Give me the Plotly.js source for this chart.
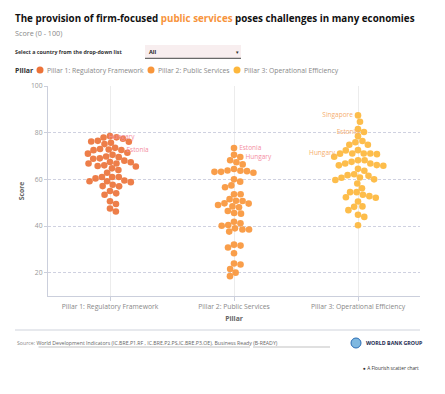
<!DOCTYPE html>
<html><head><meta charset="utf-8">
<script src="https://cdn.plot.ly/plotly-3.0.1.min.js"></script>
<style>html,body{margin:0;padding:0;background:#fff}#chart{width:445px;height:394px}</style>
</head><body><div id="chart"></div>
<script>
// ---- data ----
const pillars = ["Pillar 1: Regulatory Framework", "Pillar 2: Public Services", "Pillar 3: Operational Efficiency"];
const pillarColors = ["#EC7339", "#F8963B", "#FDB73C"];
const labelColors = ["#F48DA2", "#F48DA2", "#F6AE6E"];
const yTicks = [20, 40, 60, 80, 100];

const p1Values = [78.5, 77.4, 78.0, 76.5, 76.2, 75.7, 76.1, 75.1, 73.5, 72.5, 73.0, 72.8, 71.4, 71.0, 70.5, 69.5,
  68.8, 69.8, 69.0, 68.0, 66.8, 66.8, 66.0, 67.3, 67.4, 64.7, 64.0, 65.5, 65.7, 62.8, 61.0, 61.0, 61.0, 60.4,
  58.8, 59.5, 59.2, 59.2, 57.1, 57.0, 57.7, 55.0, 53.4, 54.0, 50.6, 49.4, 47.5, 46.2];
const p1Named = [["Hungary", 77.9], ["Estonia", 72.6]];

const p2Values = [70.5, 68.2, 67.3, 66.4, 63.2, 62.8, 63.7, 63.8, 63.2, 64.4, 63.5, 60.0, 59.0, 57.4, 56.6,
  53.6, 53.6, 50.8, 51.5, 50.7, 49.6, 49.7, 49.0, 48.4, 48.0, 46.4, 45.6, 45.3, 41.2, 41.8, 40.4, 40.1, 39.0,
  38.5, 38.5, 37.6, 30.8, 31.6, 32.0, 28.3, 23.9, 23.5, 21.6, 20.0, 18.5];
const p2Named = [["Estonia", 73.4], ["Hungary", 69.6]];

const p3Values = [84.7, 81.5, 78.5, 76.4, 75.9, 74.8, 74.8, 72.5, 72.4, 69.7, 71.1, 71.1, 71.1, 70.8, 68.2,
  68.2, 67.5, 65.8, 66.1, 66.8, 66.8, 66.0, 64.5, 63.7, 62.2, 61.8, 61.5, 60.7, 60.0, 59.7, 60.8, 58.2, 56.2,
  54.5, 54.5, 52.8, 52.1, 53.4, 52.3, 50.5, 48.2, 48.4, 46.8, 44.8, 43.9, 40.3];
const p3Named = [["Singapore", 87.4], ["Estonia", 80.3], ["Hungary", 71.0]];

// ---- layout geometry ----
const W = 445, H = 394, L = 48, R = 25, T = 86, B = 98;
const plotW = W - L - R, plotH = H - T - B;
const yMin = 10, yMax = 100;
const px = x => (x - L) / plotW;
const py = y => (H - B - y) / plotH;

// beeswarm: place points without overlap, nearest to category centre
function swarm(vals, centre, diam) {
  const kY = plotH / (yMax - yMin), kX = plotW / 3;
  const placed = [];
  return vals.map(v => {
    const y = v * kY;
    const cands = [0];
    placed.forEach(p => {
      const dy = Math.abs(p.y - y);
      if (dy < diam) {
        const dx = Math.sqrt(diam * diam - dy * dy);
        cands.push(p.x + dx + 0.01, p.x - dx - 0.01);
      }
    });
    cands.sort((a, b) => Math.abs(a) - Math.abs(b));
    const c = cands.find(c => placed.every(p => (p.x - c) ** 2 + (p.y - y) ** 2 >= diam * diam - 0.001));
    placed.push({x: c, y});
    return centre + c / kX;
  });
}

const sets = [[p1Values, p1Named], [p2Values, p2Named], [p3Values, p3Named]];
const traces = [];
sets.forEach(([vals, named], i) => {
  const allVals = named.map(n => n[1]).concat(vals);
  const texts = named.map(n => n[0]).concat(vals.map(() => ""));
  const order = allVals.map((v, k) => k).sort((a, b) => allVals[b] - allVals[a]);
  const sortedVals = order.map(k => allVals[k]);
  const xsSorted = swarm(sortedVals, i, 6.6);
  const xs = new Array(allVals.length);
  order.forEach((k, j) => xs[k] = xsSorted[j]);
  traces.push({
    type: "scatter", mode: "markers+text", x: xs, y: allVals, text: texts,
    textposition: i === 2 ? "middle left" : "middle right",
    textfont: {family: "Open Sans", size: 6.5, color: labelColors[i]},
    marker: {size: 6.6, color: pillarColors[i], opacity: 0.92, line: {width: 0}},
    hoverinfo: "skip", showlegend: false, cliponaxis: false
  });
});

const ann = [];
const shapes = [];
const font = (s, c, w) => ({family: "Open Sans", size: s, color: c, weight: w || 400});
function text(t, x, y, s, c, xa, w) {
  ann.push({text: t, xref: "paper", yref: "paper", x: px(x), y: py(y), xanchor: xa || "left", yanchor: "middle",
    showarrow: false, font: font(s, c, w)});
}
text("<b>The provision of firm-focused <span style='color:#F7943C'>public services</span> poses challenges in many economies</b>",
  13, 18, 9.8, "#111");
text("Score (0 - 100)", 13, 33, 7.2, "#888");
text("<b>Select a country from the drop-down list</b>", 13, 52, 5.3, "#333");
shapes.push({type: "rect", xref: "paper", yref: "paper", x0: px(145), x1: px(241), y0: py(58), y1: py(45),
  fillcolor: "#F8EEEF", line: {width: 0}, layer: "above"});
shapes.push({type: "line", xref: "paper", yref: "paper", x0: px(145), x1: px(241), y0: py(58.3), y1: py(58.3),
  line: {color: "#444", width: 1}});
text("<b>All</b>", 147, 52, 5.5, "#222");
text("▼", 237, 52, 4.5, "#333", "center");

text("<b>Pillar</b>", 13, 70, 7, "#333");
const legX = [40, 151, 237];
pillars.forEach((p, i) => {
  shapes.push({type: "circle", xref: "paper", yref: "paper", x0: px(legX[i] - 3.5), x1: px(legX[i] + 3.5),
    y0: py(73.5), y1: py(66.5), fillcolor: pillarColors[i], line: {width: 0}});
  text(p, legX[i] + 4.5, 70, 6.8, "#888");
});

shapes.push({type: "line", xref: "paper", yref: "paper", x0: px(15), x1: px(420), y0: py(330), y1: py(330),
  line: {color: "#cfd3dc", width: 1}});
text("Source: <span style='color:#666'>World Development Indicators (IC.BRE.P1.RF , IC.BRE.P2.PS,IC.BRE.P3.OE)</span>, <span style='color:#666'>Business Ready (B-READY)</span>",
  15, 343, 5.2, "#888");
shapes.push({type: "line", xref: "paper", yref: "paper", x0: px(38.5), x1: px(250), y0: py(347), y1: py(347),
  line: {color: "#999", width: 0.6}});
shapes.push({type: "line", xref: "paper", yref: "paper", x0: px(253), x1: px(330), y0: py(347), y1: py(347),
  line: {color: "#999", width: 0.6}});
shapes.push({type: "circle", xref: "paper", yref: "paper", x0: px(351), x1: px(361), y0: py(348), y1: py(338),
  fillcolor: "#7fb8e0", line: {color: "#2a6db5", width: 1}});
text("<b>WORLD BANK GROUP</b>", 364, 343, 5.3, "#1b2a4f");
text("● A Flourish scatter chart", 421, 368, 4.8, "#333", "right");

const layout = {
  width: W, height: H, margin: {l: L, r: R, t: T, b: B, pad: 0},
  paper_bgcolor: "#fff", plot_bgcolor: "#fff",
  font: {family: "Open Sans", color: "#888"},
  xaxis: {range: [-0.5, 2.5], tickvals: [0, 1, 2], ticktext: pillars, showgrid: true, gridcolor: "#ececec",
    gridwidth: 1, zeroline: false, showline: true, linecolor: "#cbcfdc", linewidth: 1, ticks: "outside",
    ticklen: 4, tickcolor: "#cbcfdc", tickfont: font(6.8, "#888"),
    title: {text: "<b>Pillar</b>", font: font(6.8, "#666"), standoff: 6}, fixedrange: true},
  yaxis: {range: [yMin, yMax], tickvals: yTicks, showgrid: true, gridcolor: "#cfd1e0", griddash: "3px,2px",
    gridwidth: 1, zeroline: false, showline: true, linecolor: "#cbcfdc", linewidth: 1, ticks: "outside",
    ticklen: 3, tickcolor: "#cbcfdc", tickfont: font(6.8, "#999"),
    title: {text: "<b>Score</b>", font: font(6.8, "#666"), standoff: 5}, fixedrange: true},
  annotations: ann, shapes: shapes, showlegend: false
};
Plotly.newPlot("chart", traces, layout, {displayModeBar: false, staticPlot: true});
</script></body></html>
